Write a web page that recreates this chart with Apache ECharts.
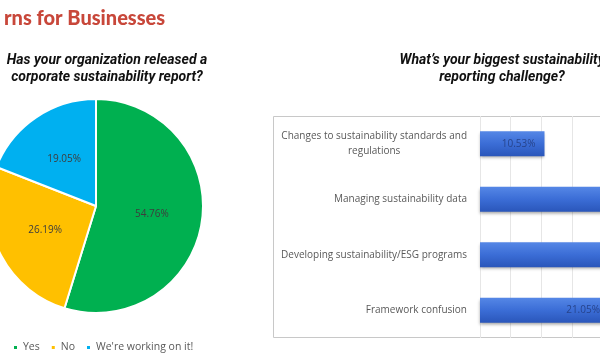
<!DOCTYPE html>
<html>
<head>
<meta charset="utf-8">
<script src="https://cdn.jsdelivr.net/npm/echarts@6/dist/echarts.min.js"></script>
<style>
html,body{margin:0;padding:0;background:#fff;}
#chart{width:600px;height:360px;}
</style>
</head>
<body>
<div id="chart"></div>
<script>
// Data
const pieNames = ['Yes', 'No', "We're working on it!"];
const pieValues = [54.76, 26.19, 19.05];
const barCategories = [
  'Changes to sustainability standards and\nregulations',
  'Managing sustainability data',
  'Developing sustainability/ESG programs',
  'Framework confusion'
];
const barValues = [10.53, 36.84, 31.58, 21.05];
const pageTitle = 'rns for Businesses';
const leftSubtitle = 'Has your organization released a\ncorporate sustainability report?';
const rightSubtitle = 'What\u2019s your biggest sustainability\nreporting challenge?';

const pieColors = ['#00B050', '#FFC000', '#00B0F0'];

const chart = echarts.init(document.getElementById('chart'));
chart.setOption({
  backgroundColor: '#ffffff',
  animation: false,
  title: [
    {text: pageTitle, left: -1, top: 4,
     textStyle: {color: '#C8473A', fontFamily: 'Lato', fontWeight: 900, fontSize: 20}},
    {text: leftSubtitle, left: 102, top: 47, textAlign: 'center',
     textStyle: {color: '#111', fontFamily: 'Roboto', fontStyle: 'italic', fontWeight: 'bold', fontSize: 14, lineHeight: 17, align: 'center'}},
    {text: rightSubtitle, left: 497, top: 47, textAlign: 'center',
     textStyle: {color: '#111', fontFamily: 'Roboto', fontStyle: 'italic', fontWeight: 'bold', fontSize: 14, lineHeight: 17, align: 'center'}}
  ],
  graphic: [
    {type: 'rect', shape: {x: 273.5, y: 116.5, width: 400, height: 221},
     style: {fill: 'none', stroke: '#c8c8c8', lineWidth: 1}, z: 0}
  ],
  legend: {
    data: pieNames, left: 7, top: 337, itemWidth: 5, itemHeight: 5, itemGap: 10,
    icon: 'rect',
    textStyle: {color: '#595959', fontFamily: 'Open Sans', fontSize: 10.5}
  },
  grid: {left: 480, top: 116, height: 222, width: 245, containLabel: false, outerBoundsMode: 'none'},
  xAxis: {
    type: 'value', min: 0, max: 40, interval: 5,
    axisLine: {show: false}, axisTick: {show: false}, axisLabel: {show: false},
    splitLine: {show: true, lineStyle: {color: '#e6e6e6', width: 1}}
  },
  yAxis: {
    type: 'category', data: barCategories, inverse: true,
    axisLine: {show: false}, axisTick: {show: false},
    axisLabel: {
      margin: 13, color: '#595959',
      formatter: v => v.split('\n').map(s => '{c|' + s + '}').join('\n'),
      rich: {c: {fontFamily: 'Open Sans', fontSize: 10, color: '#595959', align: 'center', lineHeight: 15}}
    }
  },
  series: [
    {
      type: 'pie', center: [96, 206], radius: 107, startAngle: 90, clockwise: true,
      data: pieNames.map((n, i) => ({name: n, value: pieValues[i], itemStyle: {color: pieColors[i]}})),
      itemStyle: {borderColor: '#ffffff', borderWidth: 2},
      label: {position: 'inside', formatter: p => p.value.toFixed(2) + '%',
              color: '#3d3d3d', fontFamily: 'Open Sans', fontSize: 10},
      labelLine: {show: false}
    },
    {
      type: 'bar', data: barValues, barWidth: 25,
      itemStyle: {
        color: new echarts.graphic.LinearGradient(0, 0, 0, 1, [
          {offset: 0, color: '#5587e6'},
          {offset: 0.5, color: '#3b6dd6'},
          {offset: 1, color: '#2a56ba'}
        ]),
        shadowColor: 'rgba(0,0,0,0.35)', shadowBlur: 3, shadowOffsetY: 2
      },
      label: {show: true, position: 'insideRight', distance: 9,
              formatter: p => p.value.toFixed(2) + '%',
              color: '#27448c', fontFamily: 'Open Sans', fontSize: 10}
    }
  ]
});
</script>
</body>
</html>
